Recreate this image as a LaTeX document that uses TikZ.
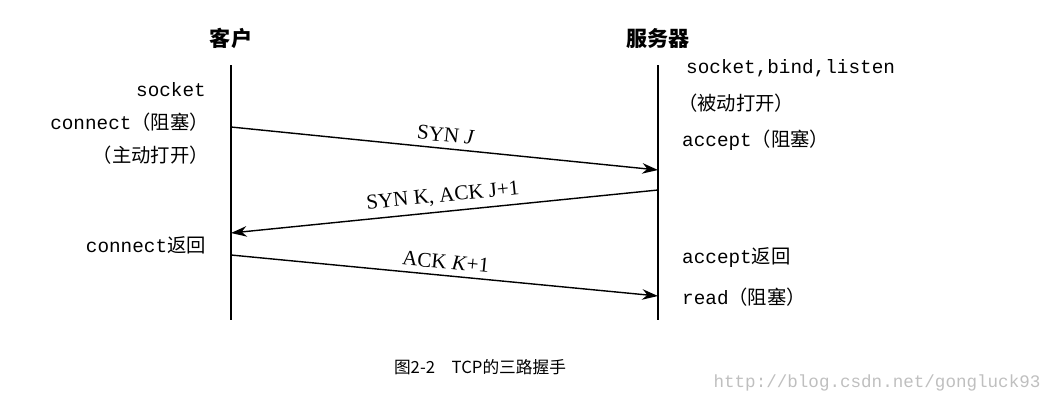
\documentclass[tikz,border=0pt]{standalone}
\usepackage{fontspec}
\setmainfont{Liberation Serif}
\setmonofont{Liberation Mono}
\newfontfamily\cjk{Noto Sans CJK SC}
\usetikzlibrary{arrows.meta}
\begin{document}
\begin{tikzpicture}[x=0.02cm,y=-0.02cm,
  life/.style={line width=0.9pt},
  msg/.style={line width=0.8pt,-{Stealth[length=9pt,width=6pt]}},
  lt/.style={anchor=east,font=\fontsize{11}{13}\selectfont},
  rt/.style={anchor=west,font=\fontsize{11}{13}\selectfont},
  lab/.style={font=\fontsize{12}{14}\selectfont,sloped,above}]
\useasboundingbox (0,0) rectangle (1044,403);
\node[font=\cjk\bfseries\fontsize{12}{14}\selectfont] (c) at (231,38) {客户};
\node[font=\cjk\bfseries\fontsize{12}{14}\selectfont] (s) at (658,38) {服务器};
\coordinate (ct) at (231,65); \coordinate (cb) at (231,320);
\coordinate (st) at (658,65); \coordinate (sb) at (658,320);
\draw[life] (ct) -- (cb); \draw[life] (st) -- (sb);
\coordinate (a1) at (231,127); \coordinate (b1) at (658,170);
\coordinate (a2) at (658,190); \coordinate (b2) at (231,233);
\coordinate (a3) at (231,255); \coordinate (b3) at (658,296);
\draw[msg] (a1) -- node[lab] (l1) {SYN \textit{J}} (b1);
\draw[msg] (a2) -- node[lab] (l2) {SYN K, ACK J+1} (b2);
\draw[msg] (a3) -- node[lab] (l3) {ACK \textit{K}+1} (b3);
\node[lt] (t1) at (212,90) {\ttfamily socket};
\node[lt] (t2) at (215,122) {\ttfamily connect\cjk（阻塞）};
\node[lt] (t3) at (215,155) {\cjk（主动打开）};
\node[lt] (t4) at (212,245) {\ttfamily connect\cjk 返回};
\node[rt] (r1) at (680,68) {\ttfamily socket,bind,listen};
\node[rt] (r2) at (672,103) {\cjk（被动打开）};
\node[rt] (r3) at (676,140) {\ttfamily accept\cjk（阻塞）};
\node[rt] (r4) at (676,258) {\ttfamily accept\cjk 返回};
\node[rt] (r5) at (676,297) {\ttfamily read\cjk（阻塞）};
\node[font=\cjk\fontsize{9.5}{11}\selectfont] (cap) at (480,367) {图2-2\quad TCP的三路握手};
\node[font=\ttfamily\fontsize{10}{11}\selectfont,text=black!25] (wm) at (877,383) {http://blog.csdn.net/gongluck93};
\end{tikzpicture}
\end{document}
